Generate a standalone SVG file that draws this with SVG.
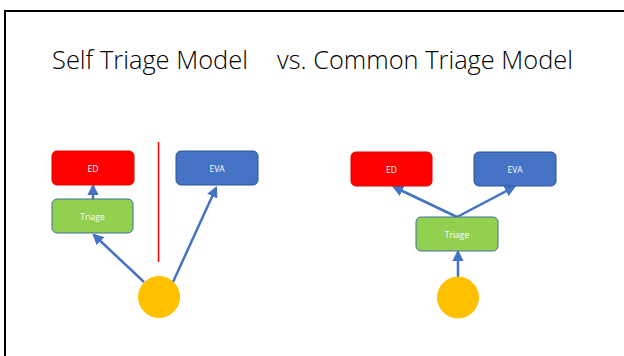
<svg xmlns="http://www.w3.org/2000/svg" width="624" height="356" viewBox="0 0 624 356">
<style>
.title{font-family:"Open Sans","Liberation Sans",sans-serif;font-weight:300;font-size:26px;fill:#000}
.lbl{font-family:"Open Sans","Liberation Sans",sans-serif;font-size:8.5px;fill:#fff;text-anchor:middle;dominant-baseline:central}
.ed{fill:#FF0000;stroke:#E00000;stroke-width:1}
.eva{fill:#4472C4;stroke:#2F528F;stroke-width:1}
.tri{fill:#92D050;stroke:#41719C;stroke-width:1}
.pt{fill:#FFC000;stroke:#FFC000;stroke-width:1}
.conn{stroke:#4472C4;stroke-width:2.5;fill:none;marker-end:url(#ah)}
</style>
<defs>
<marker id="ah" viewBox="0 0 10 10" refX="8" refY="5" markerWidth="4.5" markerHeight="4.5" orient="auto" markerUnits="strokeWidth">
<path d="M0,0 L10,5 L0,10 z" fill="#4472C4"/>
</marker>
</defs>
<rect x="0" y="0" width="624" height="356" fill="#fff"/>
<rect x="5" y="11" width="640" height="360" fill="none" stroke="#000" stroke-width="2"/>
<text class="title" y="69"><tspan x="52" textLength="196" lengthAdjust="spacingAndGlyphs">Self Triage Model</tspan><tspan x="277" textLength="296" lengthAdjust="spacingAndGlyphs">vs. Common Triage Model</tspan></text>
<g id="connectors">
<line class="conn" x1="93" y1="199" x2="93" y2="186"/>
<line class="conn" x1="144" y1="282" x2="94" y2="235"/>
<line class="conn" x1="173" y1="282" x2="216" y2="188"/>
<line class="conn" x1="458" y1="277" x2="458" y2="252"/>
<line class="conn" x1="457" y1="217" x2="394" y2="187"/>
<line class="conn" x1="457" y1="217" x2="514" y2="187"/>
</g>
<line id="divider" x1="158.5" y1="142" x2="158.5" y2="262" stroke="#FF0000" stroke-width="1.5"/>
<g id="left-ed"><rect class="ed" x="52" y="151" width="82" height="34" rx="5"/><text class="lbl" x="93" y="168">ED</text></g>
<g id="left-triage"><rect class="tri" x="52" y="199" width="81" height="34" rx="5"/><text class="lbl" x="92.5" y="216">Triage</text></g>
<g id="left-eva"><rect class="eva" x="176" y="151" width="82" height="34" rx="5"/><text class="lbl" x="217" y="168">EVA</text></g>
<g id="left-patient"><circle class="pt" cx="159" cy="297" r="20.5"/></g>
<g id="right-ed"><rect class="ed" x="351" y="152" width="81" height="34" rx="5"/><text class="lbl" x="391.5" y="169">ED</text></g>
<g id="right-eva"><rect class="eva" x="474" y="152" width="82" height="34" rx="5"/><text class="lbl" x="515" y="169">EVA</text></g>
<g id="right-triage"><rect class="tri" x="416" y="217" width="82" height="34" rx="5"/><text class="lbl" x="457" y="234">Triage</text></g>
<g id="right-patient"><circle class="pt" cx="458" cy="297.5" r="20.5"/></g>
</svg>
